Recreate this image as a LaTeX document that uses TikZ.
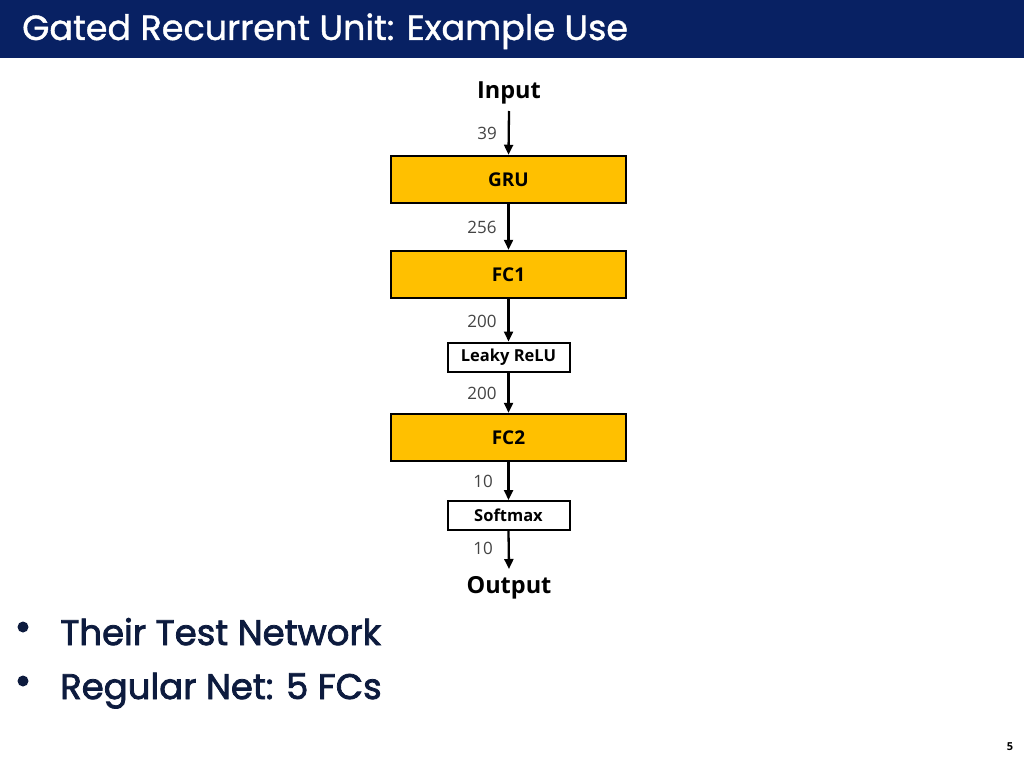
\documentclass[tikz,border=0pt]{standalone}
\usepackage{fontspec}
\setmainfont{Poppins}
\newfontfamily\titlefont[FakeBold=1.2]{Poppins}
\newfontfamily\bulletfont[FakeBold=2.2]{Poppins}
\newfontfamily\diag{Open Sans}
\usetikzlibrary{arrows.meta}
\definecolor{navy}{HTML}{082163}
\definecolor{gold}{HTML}{FFC000}
\definecolor{ink}{HTML}{0D1B3E}
\definecolor{numgray}{HTML}{444444}
\tikzset{
  bigbox/.style={draw=black, line width=2.5pt, fill=gold, minimum width=235pt, minimum height=47pt, inner sep=0pt, font=\diag\bfseries\fontsize{19}{21}\selectfont},
  smallbox/.style={draw=black, line width=2pt, fill=white, minimum width=122pt, minimum height=29pt, inner sep=0pt, font=\diag\bfseries\fontsize{16.5}{18}\selectfont},
  endlabel/.style={font=\diag\bfseries\fontsize{23.5}{26}\selectfont, inner sep=0pt},
  num/.style={font=\diag\fontsize{17}{19}\selectfont, text=numgray, inner sep=0pt},
  flow/.style={draw=black, line width=2.3pt, -{Triangle[length=10pt,width=9pt]}},
  bullettext/.style={font=\bulletfont\fontsize{35.5}{40}\selectfont, text=ink, anchor=base west, inner sep=0pt}
}
\begin{document}
\begin{tikzpicture}[x=1pt,y=-1pt]
\useasboundingbox (0,0) rectangle (1024,768);
\fill[white] (0,0) rectangle (1024,768);
\fill[navy] (0,0) rectangle (1024,58);
\node[anchor=base west, inner sep=0pt, text=white, font=\titlefont\fontsize{35}{39}\selectfont] (title) at (22,40) {Gated Recurrent Unit: Example Use};

\node[endlabel] (input) at (509,93) {Input};
\node[bigbox] (gru) at (508.5,179.5) {GRU};
\node[bigbox] (fc1) at (508.5,274.5) {FC1};
\node[smallbox] (relu) at (508.5,357) {Leaky ReLU};
\node[bigbox] (fc2) at (508.5,437.5) {FC2};
\node[smallbox] (soft) at (508.5,515.5) {Softmax};
\node[endlabel] (output) at (509,588) {Output};
\coordinate (intop) at (509,111);
\coordinate (outend) at (509,569);

\draw[flow] (intop) -- (gru.north);
\draw[flow] (gru.south) -- (fc1.north);
\draw[flow] (fc1.south) -- (relu.north);
\draw[flow] (relu.south) -- (fc2.north);
\draw[flow] (fc2.south) -- (soft.north);
\draw[flow] (soft.south) -- (outend);

\node[num] (n1) at (487,133) {39};
\node[num] (n2) at (482,227) {256};
\node[num] (n3) at (482,321) {200};
\node[num] (n4) at (482,393) {200};
\node[num] (n5) at (483,481) {10};
\node[num] (n6) at (483,548) {10};

\fill[ink] (23,627) circle (5.5pt);
\fill[ink] (23,681) circle (5.5pt);
\node[bullettext] (b1) at (60,645) {Their Test Network};
\node[bullettext] (b2) at (60,699) {Regular Net: 5 FCs};

\node[inner sep=0pt, font=\diag\bfseries\fontsize{11}{13}\selectfont] (page) at (1010,747) {5};
\end{tikzpicture}
\end{document}
